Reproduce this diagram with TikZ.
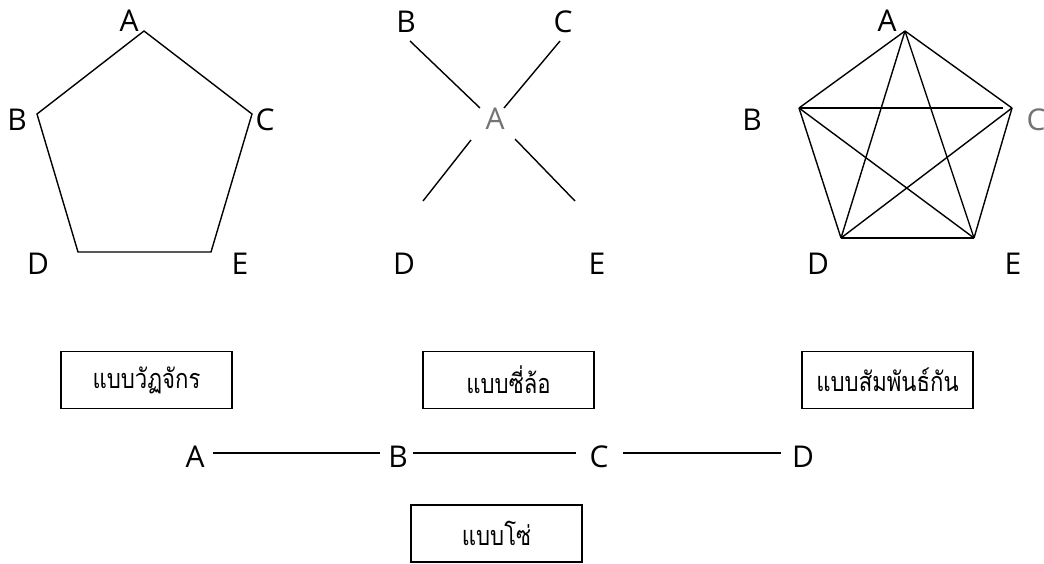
\documentclass[tikz,border=0pt]{standalone}
\usepackage{fontspec}
\setmainfont{Open Sans}
\newfontfamily\thaifont[Script=Thai, FakeStretch=0.82]{Loma}
\usetikzlibrary{positioning}

\begin{document}
\begin{tikzpicture}[x=1pt, y=-1pt, line width=1.4pt]
    % Stili
    \tikzstyle{lbl} = [inner sep=0pt, font=\fontsize{30}{36}\selectfont]
    \tikzstyle{lblchiaro} = [lbl, text=black!55]
    \tikzstyle{tipo} = [draw, rectangle, minimum width=171pt, minimum height=57pt, font=\thaifont\fontsize{27}{32}\selectfont]

    \useasboundingbox (0,0) rectangle (1044,563);

    % Vertici
    \coordinate (a1) at (144,31);
    \coordinate (b1) at (37,114);
    \coordinate (c1) at (252,114);
    \coordinate (d1) at (78,252);
    \coordinate (e1) at (211,252);

    \coordinate (b2) at (410,41);
    \coordinate (bb2) at (480,108);
    \coordinate (c2) at (560,41);
    \coordinate (cc2) at (504,108);
    \coordinate (d2) at (423,201);
    \coordinate (dd2) at (471,140);
    \coordinate (e2) at (575,201);
    \coordinate (ee2) at (515,139);

    \coordinate (a3) at (905,31);
    \coordinate (b3) at (799,108);
    \coordinate (c3) at (1012,108);
    \coordinate (d3) at (841,238);
    \coordinate (e3) at (974,238);

    % Etichette
    \node [lbl] (la1) at (129,21) {A};
    \node [lbl] (lb1) at (17,120) {B};
    \node [lbl] (lc1) at (265,120) {C};
    \node [lbl] (ld1) at (38,264) {D};
    \node [lbl] (le1) at (240,264) {E};

    \node [lblchiaro] (la2) at (495,119) {A};
    \node [lbl] (lb2) at (406,22) {B};
    \node [lbl] (lc2) at (563,22) {C};
    \node [lbl] (ld2) at (404,264) {D};
    \node [lbl] (le2) at (597,264) {E};

    \node [lbl] (la3) at (887,21) {A};
    \node [lbl] (lb3) at (752,120) {B};
    \node [lblchiaro] (lc3) at (1036,120) {C};
    \node [lbl] (ld3) at (818,264) {D};
    \node [lbl] (le3) at (1013,264) {E};

    \node [lbl] (ca) at (195,457) {A};
    \node [lbl] (cb) at (398,457) {B};
    \node [lbl] (cc) at (599,457) {C};
    \node [lbl] (cd) at (803,457) {D};

    % Riquadri
    \node [tipo] (ciclo) at (146.5,380) {แบบวัฏจักร};
    \node [tipo] (ruota) at (508.5,380) {แบบซี่ล้อ};
    \node [tipo] (rete) at (887.5,380) {แบบสัมพันธ์กัน};
    \node [tipo] (catena) at (496.5,533.5) {แบบโซ่};

    % Collegamenti
    \draw (a1) -- (c1) -- (e1) -- (d1) -- (b1) -- cycle;

    \draw (b2) -- (bb2);
    \draw (c2) -- (cc2);
    \draw (dd2) -- (d2);
    \draw (ee2) -- (e2);

    \foreach \p/\q in {a3/b3, a3/c3, a3/d3, a3/e3, b3/d3, b3/e3, c3/d3, c3/e3, d3/e3}
        \draw (\p) -- (\q);
    \draw [shorten >=9pt] (b3) -- (c3);

    \draw [shorten <=8pt, shorten >=8pt] ([yshift=4pt]ca.east) -- ([yshift=4pt]cb.west);
    \draw [shorten <=5pt, shorten >=13pt] ([yshift=4pt]cb.east) -- ([yshift=4pt]cc.west);
    \draw [shorten <=14pt, shorten >=10pt] ([yshift=4pt]cc.east) -- ([yshift=4pt]cd.west);
\end{tikzpicture}
\end{document}
